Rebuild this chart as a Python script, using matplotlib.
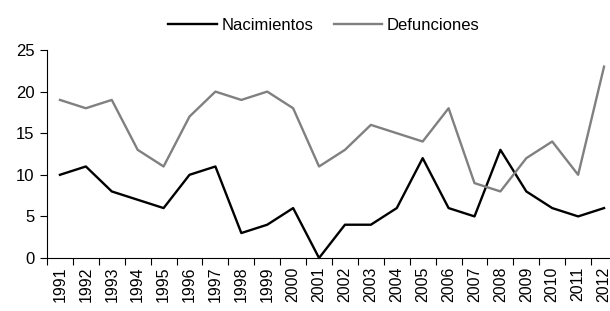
import matplotlib
matplotlib.use("Agg")
import matplotlib.pyplot as plt
import numpy as np

plt.rcParams['font.family'] = ['Liberation Sans', 'DejaVu Sans']

years = [str(y) for y in range(1991, 2013)]
nacimientos = [10, 11, 8, 7, 6, 10, 11, 3, 4, 6, 0, 4, 4, 6, 12, 6, 5, 13, 8, 6, 5, 6]
defunciones = [19, 18, 19, 13, 11, 17, 20, 19, 20, 18, 11, 13, 16, 15, 14, 18, 9, 8, 12, 14, 10, 23]

fig = plt.figure(figsize=(6.10, 3.11), dpi=100)
ax = fig.add_axes([47/610, 53/311, 570/610, 208/311])

x = np.arange(len(years))
ax.plot(x, nacimientos, color='black', lw=1.7, label='Nacimientos', clip_on=False)
ax.plot(x, defunciones, color='#808080', lw=1.7, label='Defunciones', clip_on=False)

ax.set_xlim(-0.5, len(years) - 0.5)
ax.set_ylim(0, 25)
ax.set_yticks([0, 5, 10, 15, 20, 25])
ax.set_xticks(x)
ax.set_xticklabels(years, rotation=90, fontsize=11.5)
ax.set_xticks(np.arange(-0.5, len(years), 1.0), minor=True)
ax.tick_params(axis='x', which='major', length=0, pad=6)
ax.tick_params(axis='x', which='minor', length=5, width=0.8, color='black', direction='out')
ax.tick_params(axis='y', labelsize=12, length=5, width=0.8, direction='out', pad=4)
for s in ['top', 'right']:
    ax.spines[s].set_visible(False)
for s in ['left', 'bottom']:
    ax.spines[s].set_linewidth(0.8)

fig.legend(loc='center', bbox_to_anchor=(324/610, 1 - 25/311), ncol=2, frameon=False,
           fontsize=12, handlelength=2.9, handletextpad=0.3, columnspacing=1.2)

fig.savefig('out.png', dpi=100)
